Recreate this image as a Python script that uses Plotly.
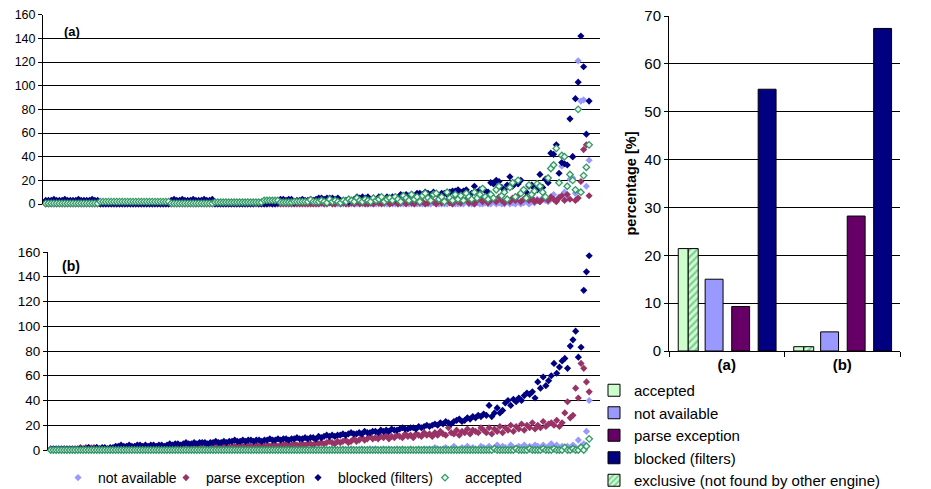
import plotly.graph_objects as go

# ---------------- scatter data, panel (a) ----------------
a_blocked = [3,3,3,4,3,3,3,4,3,3,3,3,4,3,3,3,3,4,3,3,
             0,0,0,0,0,0,0,0,0,0,0,0,0,0,0,0,0,0,0,0,
             0,0,0,0,0,0,3,4,3,3,4,3,3,3,4,3,3,3,4,3,
             3,4,0,0,0,0,0,0,0,0,0,0,0,0,0,0,0,1,0,0,
             0,0,1,0,0,1,4,4,3,4,4,1,3,3,4,3,3,4,3,4,
             5,5,4,5,5,5,4,5,3,3,3,2,3,4,6,5,6,5,6,4,
             5,4,6,5,4,6,5,6,4,5,8,7,8,7,8,6,9,9,8,10,
             9,8,10,9,7,9,9,8,10,11,11,12,10,11,12,8,9,15,10,12,
             13,11,10,18,17,20,19,14,12,16,23,15,18,17,20,12,10,15,16,13,
             12,25,14,21,18,43,42,50,26,35,34,33,72,40,89,103,142,116,59,87]
a_accepted = [0.5,0.5,0.5,0.5,0.5,0.5,0.5,0.5,0.5,0.5,0.5,0.5,0.5,0.5,0.5,0.5,0.5,0.5,0.5,0.5,
              2,2,2,2,2,2,2,2,2,2,2,2,2,2,2,2,2,2,2,2,
              2,2,2,2,2,2,0.5,0.5,0.5,0.5,0.5,0.5,0.5,0.5,0.5,0.5,0.5,0.5,0.5,0.5,
              0.5,0.5,1.5,1.5,1.5,1.5,1.5,1.5,1.5,1.5,1.5,1.5,1.5,1.5,1.5,1.5,1.5,1.5,1.5,1.5,
              3,3,3,3,3,3,1.5,1.5,1.5,1.5,1.5,2,2,2,2,2,2,3.5,2,2,
              2,3,2,1,4,2,3,2,1,3,2,4,3,2,5,3,2,4,3,2,
              5,3,4,6,2,4,5,3,6,4,2,7,5,3,8,4,6,2,7,9,
              5,3,8,9,4,6,2,10,5,3,8,4,7,3,9,6,4,10,5,8,
              13,6,4,8,5,12,15,7,10,4,14,18,6,20,9,12,5,16,8,11,
              17,15,10,6,22,30,33,47,18,41,40,15,25,20,12,80,10,24,31,50]
a_parse = [0,0,0,0,0,0,0,0,0,0,0,0,0,0,0,0,0,0,0,0,
           0,0,0,0,0,0,0,0,0,0,0,0,0,0,0,0,0,0,0,0,
           0,0,0,0,0,0,0,0,0,0,0,0,0,0,0,0,0,0,0,0,
           0,0,0,0,0,0,0,0,0,0,0,0,0,0,0,0,0,0,0,0,
           0,0,0,0,0,0,0,0,0,0,0,0,0,0,0,0,0,0,0,0,
           0,1,0,0,1,0,0,2,0,1,0,0,1,0,2,0,1,0,0,1,
           0,2,1,0,1,3,0,1,2,0,1,3,0,2,1,0,3,1,2,0,
           1,3,2,0,4,1,2,3,1,0,5,2,1,3,4,1,2,0,3,5,
           2,4,1,3,5,2,6,3,1,4,2,5,3,7,2,4,6,3,5,2,
           3,2,4,5,3,6,4,2,5,7,3,8,4,40,3,5,19,46,50,7]
a_notavail = [0,0,0,0,0,0,0,0,0,0,0,0,0,0,0,0,0,0,0,0,
              0,0,0,0,0,0,0,0,0,0,0,0,0,0,0,0,0,0,0,0,
              0,0,0,0,0,0,0,0,0,0,0,0,0,0,0,0,0,0,0,0,
              0,0,0,0,0,0,0,0,0,0,0,0,0,0,0,0,0,0,0,0,
              0,0,0,0,0,0,0,0,0,0,0,0,0,0,0,0,0,0,0,0,
              0,0,0,0,1,0,0,0,0,0,0,0,0,0,0,1,0,0,0,0,
              0,0,0,1,0,0,0,0,0,0,0,0,1,0,0,0,0,0,0,0,
              0,0,1,0,0,0,0,0,1,0,0,0,0,0,2,0,0,0,1,0,
              0,1,0,0,2,0,1,0,0,3,0,1,0,2,0,1,3,0,2,1,
              4,2,5,3,2,4,8,3,6,32,10,5,21,22,9,121,87,88,15,37]

# ---------------- scatter data, panel (b) ----------------
b_blocked = [1,1,1,1,1,1,1,1,1,1,1,1,1,1,2,1,1,2,1,2,
             2,1,2,2,3,3,4,3,3,4,3,3,4,4,3,4,3,4,4,3,
             4,4,3,4,5,4,5,5,4,5,6,5,5,6,5,6,6,6,5,6,
             6,7,6,6,7,6,7,7,8,7,7,8,7,8,8,7,8,8,7,8,
             8,9,8,8,9,8,9,9,8,9,9,10,9,9,10,9,10,10,9,11,
             10,11,12,11,12,11,12,12,13,12,13,14,13,13,14,13,15,14,14,15,
             15,14,16,15,16,15,17,16,16,17,18,17,17,18,18,17,19,18,19,20,
             19,20,21,20,22,21,23,22,21,23,24,25,23,24,26,25,27,26,28,27,
             29,28,36,27,30,34,30,32,38,40,36,41,39,42,40,44,46,45,47,42,
             55,50,59,52,56,60,70,62,67,72,74,66,84,89,96,75,83,129,144,157]
b_parse = [0,0,0,0,0,0,0,0,0,0,0,2,1,2,2,1,2,2,1,1,
           1,1,1,1,1,1,1,2,1,1,2,1,1,2,1,2,1,2,1,2,
           2,1,2,2,1,2,2,3,2,2,2,3,2,3,2,3,2,2,3,3,
           2,3,3,2,3,3,2,3,3,3,4,3,3,4,3,3,4,3,4,3,
           4,3,4,4,3,4,4,5,4,4,5,4,4,5,4,5,5,4,6,5,
           6,5,6,7,6,5,7,6,7,8,6,7,9,7,8,10,8,9,11,9,
           10,9,11,10,12,9,11,10,12,11,10,13,11,12,10,13,12,11,14,12,
           13,11,14,12,15,13,12,18,14,13,16,12,15,14,17,13,16,15,14,18,
           16,14,18,13,17,15,19,14,18,16,20,15,19,17,21,16,20,18,22,17,
           20,18,23,19,21,22,20,24,19,22,30,39,26,28,50,42,70,66,55,47]
b_notavail = [0,0,0,0,0,0,0,0,0,0,0,0,0,0,0,2,0,0,0,0,
              0,0,0,0,0,0,0,0,0,1,0,0,0,0,0,0,0,0,0,0,
              0,0,0,0,0,0,0,1,0,0,0,0,0,0,0,0,0,0,0,0,
              0,0,0,0,0,1,0,0,0,0,0,0,0,0,0,0,0,1,0,0,
              0,0,0,0,0,0,1,0,0,0,0,0,0,0,1,0,0,0,0,0,
              0,1,0,0,1,0,0,0,1,0,0,1,0,0,0,1,0,0,1,0,
              1,0,0,1,0,1,0,0,1,0,1,0,0,1,0,0,1,0,1,0,
              1,0,2,1,0,1,2,0,1,3,1,0,2,1,3,0,2,1,0,3,
              2,1,3,0,2,4,1,3,2,0,4,2,1,3,2,4,1,3,2,4,
              3,1,4,2,3,5,2,4,1,3,2,3,1,4,2,8,3,5,15,40]
b_accepted = [0,0,0,0,0,0,0,0,0,0,0,0,0,0,0,0,0,0,0,0,
              0,0,0,0,0,0,0,0,0,0,0,0,0,0,0,0,0,0,0,0,
              0,0,0,0,0,0,0,0,0,0,0,0,0,0,0,0,0,0,0,0,
              0,0,0,0,0,0,0,0,0,0,0,0,0,0,0,0,0,0,0,0,
              0,0,0,0,0,0,0,0,0,0,0,0,0,0,0,0,0,0,0,0,
              0,0,0,0,0,0,0,0,0,0,0,0,0,0,0,0,0,0,0,0,
              0,0,0,0,0,0,0,0,0,0,0,0,0,0,0,0,0,0,0,0,
              0,0,0,0,0,0,0,0,0,0,0,0,0,0,0,0,0,0,0,0,
              0,0,0,0,1,0,0,0,0,0,0,0,1,0,0,0,0,1,0,0,
              0,0,1,0,0,0,1,0,0,0,2,0,0,1,0,0,2,0,3,9]

# ---------------- bar data ----------------
bar_categories = ["(a)", "(b)"]
bar_accepted = [21.4, 0.9]
bar_exclusive = [21.4, 0.9]
bar_notavail = [15.0, 4.0]
bar_parse = [9.3, 28.2]
bar_blocked = [54.7, 67.4]
y_ticks_left = [0, 20, 40, 60, 80, 100, 120, 140, 160]
y_ticks_bar = [0, 10, 20, 30, 40, 50, 60, 70]

C_NA = "#9999FF"
C_PE = "#993366"
C_BL = "#000080"
C_AC = "#339966"

FONT = "Liberation Sans, Arial, sans-serif"
W, H = 931, 489

fig = go.Figure()

scatter_specs = [
    ("not available", a_notavail, b_notavail, C_NA, "legend2"),
    ("parse exception", a_parse, b_parse, C_PE, "legend3"),
    ("blocked (filters)", a_blocked, b_blocked, C_BL, "legend4"),
    ("accepted", a_accepted, b_accepted, C_AC, "legend5"),
]
for name, ya, yb, col, lg in scatter_specs:
    if name == "accepted":
        mk = dict(symbol="diamond", size=5, color="#EAF7EF", line=dict(color=col, width=1.3))
    else:
        mk = dict(symbol="diamond", size=5.5, color=col, line=dict(width=0))
    fig.add_trace(go.Scatter(x=list(range(1, len(ya) + 1)), y=ya, mode="markers", marker=mk,
                             name=name, showlegend=False, cliponaxis=False,
                             xaxis="x", yaxis="y"))
    fig.add_trace(go.Scatter(x=list(range(1, len(yb) + 1)), y=yb, mode="markers", marker=mk,
                             name=name, showlegend=True, legend=lg, cliponaxis=False,
                             xaxis="x2", yaxis="y2"))

bar_specs = [
    ("accepted", bar_accepted, dict(color="#CCFFCC"), -0.42, 0.0865),
    ("not available", bar_notavail, dict(color="#9999FF"), -0.187, 0.155),
    ("parse exception", bar_parse, dict(color="#660066"), 0.043, 0.155),
    ("blocked (filters)", bar_blocked, dict(color="#000080"), 0.272, 0.155),
    ("exclusive (not found by other engine)", bar_exclusive,
     dict(color="#CCFFCC", pattern=dict(shape="/", fgcolor="#339966", bgcolor="#CCFFCC",
                                       size=5, solidity=0.45)), -0.3335, 0.0865),
]
for name, vals, mk, off, wd in bar_specs:
    mk = dict(mk)
    mk["line"] = dict(color="#000000", width=1)
    fig.add_trace(go.Bar(x=bar_categories, y=vals, name=name, marker=mk,
                         offset=off, width=wd, xaxis="x3", yaxis="y3",
                         legend="legend", showlegend=True))

left_y = dict(range=[0, 160], tickvals=y_ticks_left, showgrid=True, gridcolor="#000000",
              gridwidth=1, showline=True, linecolor="#000000", linewidth=1,
              ticks="outside", ticklen=4, tickcolor="#000000", zeroline=False,
              automargin=False)
left_x = dict(range=[0, 204], showgrid=False, showticklabels=False, zeroline=False,
              showline=False, ticks="", automargin=False)

leg_common = dict(bgcolor="rgba(0,0,0,0)", itemwidth=30)
bot_y = 1 - 478 / H

fig.update_layout(
    width=W, height=H,
    margin=dict(l=0, r=0, t=0, b=0, autoexpand=False),
    paper_bgcolor="white", plot_bgcolor="white",
    font=dict(family=FONT, color="#000000", size=13),
    barmode="overlay",
    xaxis=dict(left_x, domain=[43 / W, 600 / W], anchor="y"),
    yaxis=dict(left_y, domain=[1 - 204 / H, 1 - 14.7 / H], anchor="x",
               tickfont=dict(size=12.5)),
    xaxis2=dict(left_x, domain=[48 / W, 600 / W], anchor="y2"),
    yaxis2=dict(left_y, domain=[1 - 450 / H, 1 - 252 / H], anchor="x2",
                tickfont=dict(size=13.5)),
    xaxis3=dict(domain=[669 / W, 900 / W], anchor="y3", type="category",
                showline=True, linecolor="#000000", ticks="outside", tickson="boundaries",
                ticklen=5, tickcolor="#000000", tickfont=dict(size=15, weight="bold"),
                showgrid=False, automargin=False),
    yaxis3=dict(domain=[1 - 351 / H, 1 - 16 / H], anchor="x3", range=[0, 70],
                tickvals=y_ticks_bar, showgrid=True, gridcolor="#000000", gridwidth=1,
                showline=True, linecolor="#000000", ticks="outside", ticklen=4,
                tickcolor="#000000", zeroline=False, tickfont=dict(size=15),
                title=dict(text="percentage [%]", font=dict(size=14.5, weight="bold"),
                           standoff=4),
                automargin=False),
    legend=dict(leg_common, x=594 / W, y=1 - 374 / H, xanchor="left", yanchor="top",
                font=dict(size=15), traceorder="normal"),
    legend2=dict(leg_common, x=58 / W, y=bot_y, xanchor="left", yanchor="middle",
                 font=dict(size=14)),
    legend3=dict(leg_common, x=166 / W, y=bot_y, xanchor="left", yanchor="middle",
                 font=dict(size=14)),
    legend4=dict(leg_common, x=298 / W, y=bot_y, xanchor="left", yanchor="middle",
                 font=dict(size=14)),
    legend5=dict(leg_common, x=425 / W, y=bot_y, xanchor="left", yanchor="middle",
                 font=dict(size=14)),
    annotations=[
        dict(text="<b>(a)</b>", x=62 / W, y=1 - 31 / H, xref="paper", yref="paper",
             xanchor="left", yanchor="middle", showarrow=False, font=dict(size=13)),
        dict(text="<b>(b)</b>", x=60 / W, y=1 - 266 / H, xref="paper", yref="paper",
             xanchor="left", yanchor="middle", showarrow=False, font=dict(size=14)),
    ],
)

fig.write_html("out.html", config={"displayModeBar": False},
               post_script="document.body.style.margin='0';document.body.style.overflow='hidden';")
